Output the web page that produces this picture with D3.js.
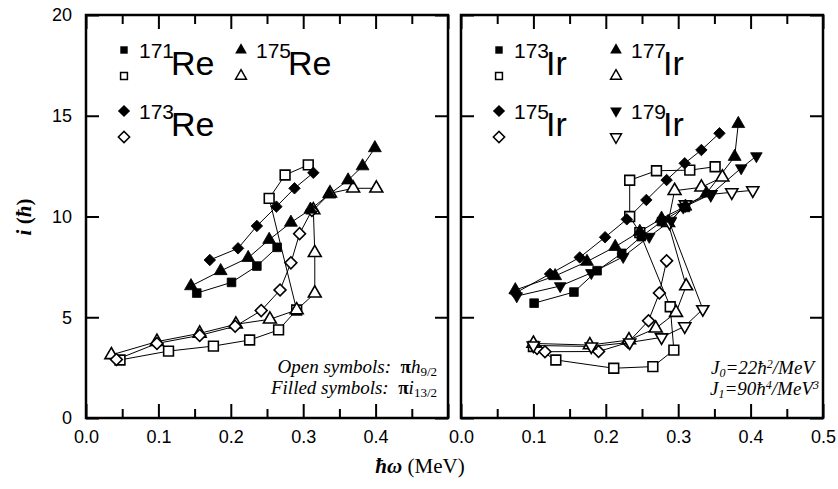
<!DOCTYPE html>
<html lang="en">
<head>
  <meta charset="UTF-8">
  <title>Aligned angular momentum in Re and Ir isotopes</title>
  <script src="https://d3js.org/d3.v7.min.js"></script>
  <style>
    body
    {
      margin: 0;
      background: #fff;
    }

    svg
    {
      font-family: "Liberation Sans", Arial, sans-serif;
    }
  </style>
</head>
<body>
  <svg width="838" height="489"></svg>
  <script>
    // values: [hbar omega (MeV), i (hbar)]
    const re171Filled = [[0.153,6.2],[0.201,6.73],[0.236,7.54],[0.264,8.47]];
    const re175Filled = [[0.145,6.55],[0.186,7.3],[0.224,7.95],[0.253,8.85],[0.283,9.7],[0.31,10.35],[0.336,11.1],[0.362,11.8],[0.382,12.5],[0.399,13.4]];
    const re173Filled = [[0.171,7.84],[0.21,8.42],[0.236,9.53],[0.263,10.49],[0.288,11.4],[0.314,12.17]];
    const re171Open = [[0.047,2.88],[0.114,3.32],[0.176,3.57],[0.226,3.87],[0.266,4.37],[0.291,5.36],[0.253,10.9],[0.275,12.06],[0.307,12.56]];
    const re175Open = [[0.035,3.13],[0.098,3.79],[0.157,4.2],[0.207,4.65],[0.254,4.9],[0.291,5.36],[0.316,6.19],[0.316,8.2],[0.314,10.32],[0.337,11.15],[0.369,11.4],[0.401,11.4]];
    const re173Open = [[0.042,2.9],[0.098,3.7],[0.157,4.1],[0.206,4.55],[0.242,5.33],[0.268,6.35],[0.283,7.7],[0.295,9.15],[0.312,10.3]];

    const ir173Filled = [[0.101,5.7],[0.156,6.25],[0.188,7.31],[0.222,8.17],[0.249,9.0],[0.277,9.75],[0.31,10.45]];
    const ir177Filled = [[0.075,6.35],[0.13,7.05],[0.174,7.76],[0.213,8.5],[0.247,9.25],[0.277,9.9],[0.31,10.5],[0.339,11.15],[0.378,12.97],[0.383,14.6]];
    const ir175Filled = [[0.075,6.2],[0.123,7.15],[0.164,7.97],[0.199,8.97],[0.229,9.86],[0.256,10.82],[0.284,11.81],[0.309,12.64],[0.332,13.3],[0.357,14.13]];
    const ir179Filled = [[0.077,6.05],[0.137,6.55],[0.18,7.2],[0.224,8.0],[0.26,9.0],[0.29,9.8],[0.307,10.45],[0.345,11.1],[0.387,12.4],[0.408,13.0]];
    const ir173Open = [[0.10,3.55],[0.131,2.88],[0.211,2.47],[0.265,2.55],[0.294,3.37],[0.289,5.52],[0.247,9.2],[0.233,10.0],[0.233,11.8],[0.27,12.27],[0.316,12.3],[0.351,12.47]];
    const ir175Open = [[0.105,3.45],[0.116,3.29],[0.19,3.3],[0.231,3.75],[0.259,4.83],[0.274,6.2],[0.284,7.8]];
    const ir177Open = [[0.1,3.7],[0.178,3.62],[0.232,3.87],[0.269,4.45],[0.297,5.23],[0.311,6.55],[0.286,9.69],[0.295,11.28],[0.332,11.45],[0.361,11.95]];
    const ir179Open = [[0.1,3.6],[0.18,3.55],[0.233,3.75],[0.277,4.0],[0.309,4.55],[0.334,5.4],[0.288,9.7],[0.31,10.6],[0.345,11.1],[0.374,11.2],[0.403,11.3]];

    const xTicks = [0, 0.1, 0.2, 0.3, 0.4, 0.5];
    const xMinor = [0.05, 0.15, 0.25, 0.35, 0.45];
    const yTicks = [0, 5, 10, 15, 20];

    const svg = d3.select("svg");
    const panelW = 362, panelH = 403, panelTop = 15;

    const y = d3.scaleLinear().domain([0, 20]).range([panelH, 0]);

    // symbol shapes
    const shapes =
    {
      square: d3.symbol().type(d3.symbolSquare),
      triangle: d3.symbol().type(d3.symbolTriangle),
      diamond: d3.symbol().type(d3.symbolSquare),
      down: d3.symbol().type(d3.symbolTriangle)
    };
    const rot = { square: 0, triangle: 0, diamond: 45, down: 180 };
    const sizeFilled = { square: 75, triangle: 72, diamond: 66, down: 58 };
    const sizeOpen = { square: 95, triangle: 72, diamond: 70, down: 64 };
    const sizeLegend = { square: 55, triangle: 60, diamond: 75, down: 60 };

    const panels = [
      {
        left: 86, labels: xTicks.slice(0, 5), yLabels: true,
        series: [
          { pts: re171Open, shape: "square", open: true },
          { pts: re175Open, shape: "triangle", open: true },
          { pts: re173Open, shape: "diamond", open: true },
          { pts: re171Filled, shape: "square", open: false },
          { pts: re175Filled, shape: "triangle", open: false },
          { pts: re173Filled, shape: "diamond", open: false }
        ],
        legend: [
          { shape: "square", col: 0, row: 0, mass: "171", el: "Re" },
          { shape: "triangle", col: 1, row: 0, mass: "175", el: "Re" },
          { shape: "diamond", col: 0, row: 1, mass: "173", el: "Re" }
        ]
      },
      {
        left: 461, labels: xTicks, yLabels: false,
        series: [
          { pts: ir173Open, shape: "square", open: true },
          { pts: ir175Open, shape: "diamond", open: true },
          { pts: ir177Open, shape: "triangle", open: true },
          { pts: ir179Open, shape: "down", open: true },
          { pts: ir173Filled, shape: "square", open: false },
          { pts: ir179Filled, shape: "down", open: false },
          { pts: ir177Filled, shape: "triangle", open: false },
          { pts: ir175Filled, shape: "diamond", open: false }
        ],
        legend: [
          { shape: "square", col: 0, row: 0, mass: "173", el: "Ir" },
          { shape: "triangle", col: 1, row: 0, mass: "177", el: "Ir" },
          { shape: "diamond", col: 0, row: 1, mass: "175", el: "Ir" },
          { shape: "down", col: 1, row: 1, mass: "179", el: "Ir" }
        ]
      }
    ];

    const line = d3.line();

    panels.forEach(p =>
    {
      const x = d3.scaleLinear().domain([0, 0.5]).range([0, panelW]);
      const g = svg.append("g").attr("transform", `translate(${p.left},${panelTop})`);

      // minor and major ticks, all pointing inward
      const tickStyle = sel =>
      {
        sel.select(".domain").remove();
        sel.selectAll("line").attr("stroke", "#000").attr("stroke-width", 2);
        sel.selectAll("text").attr("font-size", 18).attr("fill", "#000")
          .attr("font-family", "'Liberation Sans', Arial, sans-serif");
      };

      g.append("g").attr("transform", `translate(0,${panelH})`)
        .call(d3.axisBottom(x).tickValues(xMinor).tickSizeInner(-9).tickSizeOuter(0).tickFormat(""))
        .call(tickStyle);
      g.append("g").attr("transform", `translate(0,${panelH})`)
        .call(d3.axisBottom(x).tickValues(xTicks).tickSizeInner(-14).tickSizeOuter(0).tickPadding(12)
          .tickFormat(d => p.labels.includes(d) ? d3.format(".1f")(d) : ""))
        .call(tickStyle);
      g.append("g")
        .call(d3.axisTop(x).tickValues(xMinor).tickSizeInner(-9).tickSizeOuter(0).tickFormat(""))
        .call(tickStyle);
      g.append("g")
        .call(d3.axisTop(x).tickValues(xTicks).tickSizeInner(-14).tickSizeOuter(0).tickFormat(""))
        .call(tickStyle);
      g.append("g")
        .call(d3.axisLeft(y).tickValues(yTicks).tickSizeInner(-13).tickSizeOuter(0).tickPadding(14)
          .tickFormat(d => p.yLabels ? d : ""))
        .call(tickStyle);
      g.append("g").attr("transform", `translate(${panelW},0)`)
        .call(d3.axisRight(y).tickValues(yTicks).tickSizeInner(-13).tickSizeOuter(0).tickFormat(""))
        .call(tickStyle);

      g.append("rect")
        .attr("width", panelW).attr("height", panelH)
        .attr("fill", "none").attr("stroke", "#000").attr("stroke-width", 2.5);

      // connecting lines first
      p.series.forEach(s =>
      {
        g.append("path")
          .attr("d", line(s.pts.map(d => [x(d[0]), y(d[1])])))
          .attr("fill", "none").attr("stroke", "#000").attr("stroke-width", 1);
      });

      // then the symbols
      p.series.forEach(s =>
      {
        const size = s.open ? sizeOpen[s.shape] : sizeFilled[s.shape];
        g.append("g").selectAll("path")
          .data(s.pts)
          .join("path")
          .attr("d", shapes[s.shape].size(size))
          .attr("transform", d => `translate(${x(d[0])},${y(d[1])}) rotate(${rot[s.shape]})`)
          .attr("fill", s.open ? "#fff" : "#000")
          .attr("stroke", "#000")
          .attr("stroke-width", s.open ? 1.6 : 0.8);
      });

      // legend
      p.legend.forEach(l =>
      {
        const lx = 38 + l.col * 117;
        const ly = 35 + l.row * 61;
        g.append("path")
          .attr("d", shapes[l.shape].size(sizeLegend[l.shape]))
          .attr("transform", `translate(${lx},${ly}) rotate(${rot[l.shape]})`)
          .attr("fill", "#000");
        g.append("path")
          .attr("d", shapes[l.shape].size(sizeLegend[l.shape] * 0.85))
          .attr("transform", `translate(${lx},${ly + 26}) rotate(${rot[l.shape]})`)
          .attr("fill", "#fff").attr("stroke", "#000").attr("stroke-width", 1.5);
        g.append("text")
          .attr("x", lx + 15).attr("y", ly + 8)
          .attr("font-size", 21)
          .text(l.mass);
        g.append("text")
          .attr("x", lx + 47).attr("y", ly + 25)
          .attr("font-size", 34)
          .text(l.el);
      });
    });

    // notes inside the panels
    const serif = "'Liberation Serif', 'Times New Roman', serif";

    function noteLine(xr, yb, label, letter, sub)
    {
      const t = svg.append("text")
        .attr("x", xr).attr("y", yb)
        .attr("text-anchor", "end")
        .attr("font-family", serif).attr("font-style", "italic").attr("font-size", 19);
      t.append("tspan").text(label + "\u00a0\u00a0");
      t.append("tspan").attr("font-style", "normal").attr("font-weight", "bold").text("\u03c0");
      t.append("tspan").text(letter);
      t.append("tspan").attr("font-size", 13).attr("font-style", "normal").attr("dy", 3).text(sub);
    }
    noteLine(437, 373, "Open symbols:", "h", "9/2");
    noteLine(437, 394, "Filled symbols:", "i", "13/2");

    function momentLine(xr, yb, idx, value, pow, cube)
    {
      const t = svg.append("text")
        .attr("x", xr).attr("y", yb)
        .attr("text-anchor", "end")
        .attr("font-family", serif).attr("font-style", "italic").attr("font-size", 19);
      t.append("tspan").text("J");
      t.append("tspan").attr("font-size", 12).attr("dy", 3).text(idx);
      t.append("tspan").attr("dy", -3).text("=" + value + "\u0127");
      t.append("tspan").attr("font-size", 12).attr("dy", -6).text(pow);
      t.append("tspan").attr("dy", 6).text("/MeV");
      if (cube) t.append("tspan").attr("font-size", 12).attr("dy", -6).text(cube);
    }
    momentLine(814, 374, "0", "22", "2", "");
    momentLine(819, 395, "1", "90", "4", "3");

    // axis titles
    svg.append("text")
      .attr("transform", "translate(31,217) rotate(-90)")
      .attr("text-anchor", "middle")
      .attr("font-family", serif).attr("font-size", 21).attr("font-weight", "bold")
      .html("<tspan font-style='italic'>i</tspan> (<tspan font-style='italic'>\u0127</tspan>)");

    svg.append("text")
      .attr("x", 420).attr("y", 473)
      .attr("text-anchor", "middle")
      .attr("font-family", serif).attr("font-size", 21)
      .html("<tspan font-style='italic' font-weight='bold'>\u0127\u03c9</tspan> (MeV)");
  </script>
</body>
</html>
